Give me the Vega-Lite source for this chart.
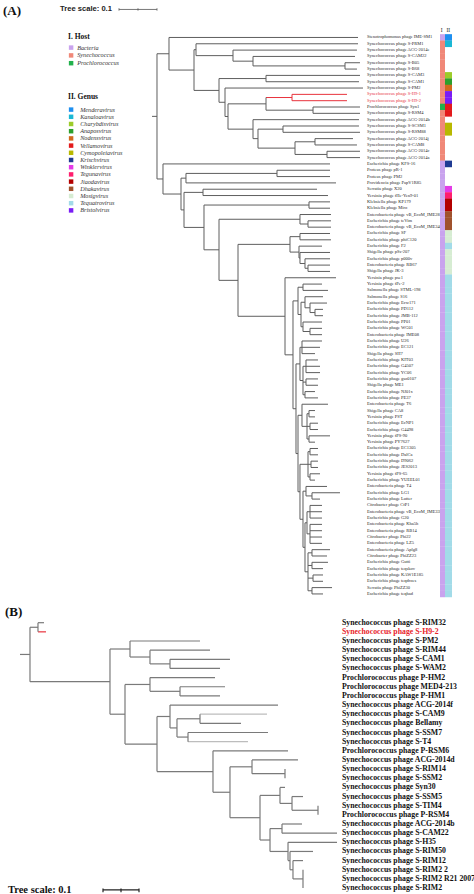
{
  "$schema": "https://vega.github.io/schema/vega-lite/v6.json",
  "padding": 0,
  "spacing": 0,
  "background": "white",
  "config": {"view": {"stroke": null}},
  "resolve": {"scale": {"x": "independent", "y": "independent"}},
  "datasets": {
    "treeA": [
      {"id": "Stenotrophomonas phage IME-SM1", "p": 0.0421, "d": 0.5395, "y": 1, "host": "Bacteria", "genus": "Menderavirus"},
      {"id": "Synechococcus phage S-PRM1", "p": 0.1132, "d": 0.5395, "y": 2, "host": "Synechococcus", "genus": "Kanaloavirus"},
      {"id": "Synechococcus phage ACG-2014e", "p": 0.2105, "d": 0.5368, "y": 3, "host": "Synechococcus"},
      {"id": "Synechococcus phage S-CAM22", "p": 0.2632, "d": 0.5316, "y": 4, "host": "Synechococcus"},
      {"id": "Synechococcus phage S-B05", "p": 0.5053, "d": 0.5447, "y": 5, "host": "Synechococcus"},
      {"id": "Synechococcus phage S-B68", "p": 0.5053, "d": 0.5368, "y": 6, "host": "Synechococcus"},
      {"id": "Synechococcus phage S-CAM3", "p": 0.2974, "d": 0.5447, "y": 7, "host": "Synechococcus", "genus": "Charybdisvirus"},
      {"id": "Synechococcus phage S-CAM1", "p": 0.2974, "d": 0.5421, "y": 8, "host": "Synechococcus", "genus": "Anaposvirus"},
      {"id": "Synechococcus phage S-PM2", "p": 0.1895, "d": 0.5526, "y": 9, "host": "Synechococcus", "genus": "Nodensvirus"},
      {"id": "Synechococcus phage S-H9-1", "p": 0.3658, "d": 0.5105, "y": 10, "host": "Synechococcus", "genus": "Bristolvirus"},
      {"id": "Synechococcus phage S-H9-2", "p": 0.3658, "d": 0.5105, "y": 11, "host": "Synechococcus", "genus": "Bristolvirus"},
      {"id": "Prochlorococcus phage Syn1", "p": 0.4211, "d": 0.5447, "y": 12, "host": "Prochlorococcus", "genus": "Vellamovirus"},
      {"id": "Synechococcus phage S-RSM4", "p": 0.4211, "d": 0.5447, "y": 13, "host": "Synechococcus", "genus": "Vellamovirus"},
      {"id": "Synechococcus phage ACG-2014b", "p": 0.2632, "d": 0.5421, "y": 14, "host": "Synechococcus"},
      {"id": "Synechococcus phage S-SCSM1", "p": 0.3421, "d": 0.5421, "y": 15, "host": "Synechococcus", "genus": "Cymopoleiavirus"},
      {"id": "Synechococcus phage S-RSM88", "p": 0.3421, "d": 0.5447, "y": 16, "host": "Synechococcus", "genus": "Cymopoleiavirus"},
      {"id": "Synechococcus phage ACG-2014j", "p": 0.4263, "d": 0.5263, "y": 17, "host": "Synechococcus"},
      {"id": "Synechococcus phage S-CAM8", "p": 0.4263, "d": 0.5368, "y": 18, "host": "Synechococcus"},
      {"id": "Synechococcus phage ACG-2014c", "p": 0.4579, "d": 0.5447, "y": 19, "host": "Synechococcus"},
      {"id": "Synechococcus phage ACG-2014a", "p": 0.4579, "d": 0.5447, "y": 20, "host": "Synechococcus"},
      {"id": "Escherichia phage KFS-16", "p": 0.0263, "d": 0.4658, "y": 21, "host": "Bacteria", "genus": "Krischvirus"},
      {"id": "Proteus phage pR-1", "p": 0.3263, "d": 0.4658, "y": 22, "host": "Bacteria"},
      {"id": "Proteus phage PM2", "p": 0.3263, "d": 0.4658, "y": 23, "host": "Bacteria"},
      {"id": "Providencia phage PapV1R85", "p": 0.0868, "d": 0.4816, "y": 24, "host": "Bacteria"},
      {"id": "Serratia phage X20", "p": 0.1316, "d": 0.4316, "y": 25, "host": "Bacteria", "genus": "Winklervirus"},
      {"id": "Yersinia phage fHe-Yen9-01", "p": 0.1316, "d": 0.4605, "y": 26, "host": "Bacteria", "genus": "Tegunavirus"},
      {"id": "Klebsiella phage KP179", "p": 0.4105, "d": 0.4658, "y": 27, "host": "Bacteria", "genus": "Jiaodavirus"},
      {"id": "Klebsiella phage Miro", "p": 0.4105, "d": 0.4658, "y": 28, "host": "Bacteria", "genus": "Jiaodavirus"},
      {"id": "Enterobacteria phage vB_EcoM_IME281", "p": 0.3868, "d": 0.4684, "y": 29, "host": "Bacteria", "genus": "Dhakavirus"},
      {"id": "Escherichia phage teVim", "p": 0.4079, "d": 0.4684, "y": 30, "host": "Bacteria", "genus": "Dhakavirus"},
      {"id": "Enterobacteria phage vB_EcoM_IME340", "p": 0.4079, "d": 0.4684, "y": 31, "host": "Bacteria", "genus": "Dhakavirus"},
      {"id": "Escherichia phage SF", "p": 0.3868, "d": 0.4658, "y": 32, "host": "Bacteria", "genus": "Mosigvirus"},
      {"id": "Escherichia phage phiC120", "p": 0.3868, "d": 0.4684, "y": 33, "host": "Bacteria", "genus": "Mosigvirus"},
      {"id": "Escherichia phage F2", "p": 0.3842, "d": 0.4447, "y": 34, "host": "Bacteria", "genus": "Tequatrovirus"},
      {"id": "Shigella phage pSs-207", "p": 0.3868, "d": 0.4658, "y": 35, "host": "Bacteria", "genus": "Mosigvirus"},
      {"id": "Escherichia phage p000v", "p": 0.4, "d": 0.4658, "y": 36, "host": "Bacteria", "genus": "Mosigvirus"},
      {"id": "Enterobacteria phage RB67", "p": 0.4079, "d": 0.4658, "y": 37, "host": "Bacteria", "genus": "Mosigvirus"},
      {"id": "Shigella phage JK-3", "p": 0.4079, "d": 0.4658, "y": 38, "host": "Bacteria", "genus": "Mosigvirus"},
      {"id": "Yersinia phage pse1", "p": 0.3474, "d": 0.4816, "y": 39, "host": "Bacteria", "genus": "Tequatrovirus"},
      {"id": "Yersinia phage fPe-2", "p": 0.3947, "d": 0.4447, "y": 40, "host": "Bacteria", "genus": "Tequatrovirus"},
      {"id": "Salmonella phage STML-198", "p": 0.3947, "d": 0.4605, "y": 41, "host": "Bacteria", "genus": "Tequatrovirus"},
      {"id": "Salmonella phage S16", "p": 0.4, "d": 0.4474, "y": 42, "host": "Bacteria", "genus": "Tequatrovirus"},
      {"id": "Escherichia phage Ecw171", "p": 0.4132, "d": 0.4579, "y": 43, "host": "Bacteria", "genus": "Tequatrovirus"},
      {"id": "Escherichia phage PD112", "p": 0.4263, "d": 0.4474, "y": 44, "host": "Bacteria", "genus": "Tequatrovirus"},
      {"id": "Escherichia phage JMB-112", "p": 0.4263, "d": 0.4474, "y": 45, "host": "Bacteria", "genus": "Tequatrovirus"},
      {"id": "Escherichia phage PP01", "p": 0.3947, "d": 0.4447, "y": 46, "host": "Bacteria", "genus": "Tequatrovirus"},
      {"id": "Escherichia phage WG01", "p": 0.4132, "d": 0.4447, "y": 47, "host": "Bacteria", "genus": "Tequatrovirus"},
      {"id": "Enterobacteria phage IME08", "p": 0.4132, "d": 0.4447, "y": 48, "host": "Bacteria", "genus": "Tequatrovirus"},
      {"id": "Escherichia phage U26", "p": 0.3921, "d": 0.4447, "y": 49, "host": "Bacteria", "genus": "Tequatrovirus"},
      {"id": "Escherichia phage EC121", "p": 0.3921, "d": 0.4395, "y": 50, "host": "Bacteria", "genus": "Tequatrovirus"},
      {"id": "Shigella phage SH7", "p": 0.3921, "d": 0.4263, "y": 51, "host": "Bacteria", "genus": "Tequatrovirus"},
      {"id": "Escherichia phage KIT03", "p": 0.4026, "d": 0.4342, "y": 52, "host": "Bacteria", "genus": "Tequatrovirus"},
      {"id": "Escherichia phage G4507", "p": 0.4026, "d": 0.4395, "y": 53, "host": "Bacteria", "genus": "Tequatrovirus"},
      {"id": "Escherichia phage YC06", "p": 0.4026, "d": 0.4395, "y": 54, "host": "Bacteria", "genus": "Tequatrovirus"},
      {"id": "Escherichia phage gso0107", "p": 0.4026, "d": 0.4342, "y": 55, "host": "Bacteria", "genus": "Tequatrovirus"},
      {"id": "Shigella phage ME1", "p": 0.4026, "d": 0.4342, "y": 56, "host": "Bacteria", "genus": "Tequatrovirus"},
      {"id": "Escherichia phage NJ01x", "p": 0.4, "d": 0.4263, "y": 57, "host": "Bacteria", "genus": "Tequatrovirus"},
      {"id": "Escherichia phage PE37", "p": 0.4, "d": 0.4342, "y": 58, "host": "Bacteria", "genus": "Tequatrovirus"},
      {"id": "Enterobacteria phage T6", "p": 0.3921, "d": 0.4605, "y": 59, "host": "Bacteria", "genus": "Tequatrovirus"},
      {"id": "Shigella phage CA8", "p": 0.4105, "d": 0.4263, "y": 60, "host": "Bacteria", "genus": "Tequatrovirus"},
      {"id": "Yersinia phage PST", "p": 0.4105, "d": 0.4263, "y": 61, "host": "Bacteria", "genus": "Tequatrovirus"},
      {"id": "Escherichia phage EcNP1", "p": 0.4132, "d": 0.4342, "y": 62, "host": "Bacteria", "genus": "Tequatrovirus"},
      {"id": "Escherichia phage G4498", "p": 0.4132, "d": 0.4342, "y": 63, "host": "Bacteria", "genus": "Tequatrovirus"},
      {"id": "Yersinia phage fPS-90", "p": 0.4105, "d": 0.4658, "y": 64, "host": "Bacteria", "genus": "Tequatrovirus"},
      {"id": "Yersinia phage PY7627", "p": 0.4105, "d": 0.4263, "y": 65, "host": "Bacteria", "genus": "Tequatrovirus"},
      {"id": "Escherichia phage EC1305", "p": 0.4132, "d": 0.4342, "y": 66, "host": "Bacteria", "genus": "Tequatrovirus"},
      {"id": "Escherichia phage DalCa", "p": 0.4132, "d": 0.4342, "y": 67, "host": "Bacteria", "genus": "Tequatrovirus"},
      {"id": "Escherichia phage D9062", "p": 0.4158, "d": 0.4342, "y": 68, "host": "Bacteria", "genus": "Tequatrovirus"},
      {"id": "Escherichia phage JES2013", "p": 0.4158, "d": 0.4342, "y": 69, "host": "Bacteria", "genus": "Tequatrovirus"},
      {"id": "Yersinia phage fPS-65", "p": 0.4132, "d": 0.4395, "y": 70, "host": "Bacteria", "genus": "Tequatrovirus"},
      {"id": "Escherichia phage YUEEL01", "p": 0.4132, "d": 0.4263, "y": 71, "host": "Bacteria", "genus": "Tequatrovirus"},
      {"id": "Enterobacteria phage T4", "p": 0.4026, "d": 0.4579, "y": 72, "host": "Bacteria", "genus": "Tequatrovirus"},
      {"id": "Escherichia phage LG1", "p": 0.4184, "d": 0.4921, "y": 73, "host": "Bacteria", "genus": "Tequatrovirus"},
      {"id": "Escherichia phage Lutter", "p": 0.4184, "d": 0.4395, "y": 74, "host": "Bacteria", "genus": "Tequatrovirus"},
      {"id": "Citrobacter phage CfP1", "p": 0.4132, "d": 0.4447, "y": 75, "host": "Bacteria", "genus": "Tequatrovirus"},
      {"id": "Enterobacteria phage vB_EcoM_IME339", "p": 0.4132, "d": 0.4447, "y": 76, "host": "Bacteria", "genus": "Tequatrovirus"},
      {"id": "Escherichia phage G20", "p": 0.4132, "d": 0.4447, "y": 77, "host": "Bacteria", "genus": "Tequatrovirus"},
      {"id": "Enterobacteria phage Kha5h", "p": 0.4132, "d": 0.4447, "y": 78, "host": "Bacteria", "genus": "Tequatrovirus"},
      {"id": "Enterobacteria phage RB14", "p": 0.4132, "d": 0.4447, "y": 79, "host": "Bacteria", "genus": "Tequatrovirus"},
      {"id": "Citrobacter phage Phi22", "p": 0.4132, "d": 0.4447, "y": 80, "host": "Bacteria", "genus": "Tequatrovirus"},
      {"id": "Enterobacteria phage LZ5", "p": 0.4132, "d": 0.4447, "y": 81, "host": "Bacteria", "genus": "Tequatrovirus"},
      {"id": "Enterobacteria phage Aplg8", "p": 0.4184, "d": 0.4658, "y": 82, "host": "Bacteria", "genus": "Tequatrovirus"},
      {"id": "Citrobacter phage PhiZZ23", "p": 0.4184, "d": 0.4579, "y": 83, "host": "Bacteria", "genus": "Tequatrovirus"},
      {"id": "Escherichia phage Gutti", "p": 0.4184, "d": 0.4605, "y": 84, "host": "Bacteria", "genus": "Tequatrovirus"},
      {"id": "Escherichia phage teqskov", "p": 0.4184, "d": 0.4474, "y": 85, "host": "Bacteria", "genus": "Tequatrovirus"},
      {"id": "Escherichia phage KAW1E185", "p": 0.4211, "d": 0.4474, "y": 86, "host": "Bacteria", "genus": "Tequatrovirus"},
      {"id": "Escherichia phage teqdroes", "p": 0.4211, "d": 0.4474, "y": 87, "host": "Bacteria", "genus": "Tequatrovirus"},
      {"id": "Serratia phage PhiZZ30", "p": 0.4184, "d": 0.4711, "y": 88, "host": "Bacteria", "genus": "Tequatrovirus"},
      {"id": "Escherichia phage teqhad", "p": 0.4184, "d": 0.4474, "y": 89, "host": "Bacteria", "genus": "Tequatrovirus"},
      {"id": "H9", "p": 0.2974, "d": 0.3658, "y": 10.5, "lo": 10, "hi": 11},
      {"id": "C12", "p": 0.2974, "d": 0.4211, "y": 12.5, "lo": 12, "hi": 13},
      {"id": "C10", "p": 0.1974, "d": 0.2974, "y": 11.5, "lo": 10.5, "hi": 12.5},
      {"id": "C6", "p": 0.2632, "d": 0.5053, "y": 5.5, "lo": 5, "hi": 6},
      {"id": "C5", "p": 0.2105, "d": 0.2632, "y": 4.75, "lo": 4, "hi": 5.5},
      {"id": "C4", "p": 0.1132, "d": 0.2105, "y": 3.875, "lo": 3, "hi": 4.75},
      {"id": "C2", "p": 0.1079, "d": 0.1132, "y": 2.9375, "lo": 2, "hi": 3.875},
      {"id": "C8", "p": 0.1737, "d": 0.2974, "y": 7.5, "lo": 7, "hi": 8},
      {"id": "C17", "p": 0.3737, "d": 0.4263, "y": 17.5, "lo": 17, "hi": 18},
      {"id": "C18", "p": 0.3737, "d": 0.4579, "y": 19.5, "lo": 19, "hi": 20},
      {"id": "C16", "p": 0.2763, "d": 0.3737, "y": 18.5, "lo": 17.5, "hi": 19.5},
      {"id": "C11", "p": 0.2763, "d": 0.3421, "y": 15.5, "lo": 15, "hi": 16},
      {"id": "C14", "p": 0.2632, "d": 0.2763, "y": 17, "lo": 15.5, "hi": 18.5},
      {"id": "C13", "p": 0.1974, "d": 0.2632, "y": 15.5, "lo": 14, "hi": 17},
      {"id": "C9b", "p": 0.1895, "d": 0.1974, "y": 13.5, "lo": 11.5, "hi": 15.5},
      {"id": "C9", "p": 0.1737, "d": 0.1895, "y": 11.25, "lo": 9, "hi": 13.5},
      {"id": "C3", "p": 0.1079, "d": 0.1737, "y": 9.375, "lo": 7.5, "hi": 11.25},
      {"id": "C1", "p": 0.0421, "d": 0.1079, "y": 6.156, "lo": 2.9375, "hi": 9.375},
      {"id": "C0", "p": 0.0105, "d": 0.0421, "y": 3.578, "lo": 1, "hi": 6.156},
      {"id": "Root", "p": -0.0026, "d": 0.0105, "y": 13.48, "lo": 3.578, "hi": 23.38},
      {"id": "P22", "p": 0.0868, "d": 0.3263, "y": 22.5, "lo": 22, "hi": 23},
      {"id": "E3", "p": 0.0737, "d": 0.0868, "y": 23.25, "lo": 22.5, "hi": 24},
      {"id": "W", "p": 0.0816, "d": 0.1316, "y": 25.5, "lo": 25, "hi": 26},
      {"id": "KP", "p": 0.1342, "d": 0.4105, "y": 27.5, "lo": 27, "hi": 28},
      {"id": "D2", "p": 0.3868, "d": 0.4079, "y": 30.5, "lo": 30, "hi": 31},
      {"id": "D", "p": 0.1737, "d": 0.3868, "y": 29.75, "lo": 29, "hi": 30.5},
      {"id": "M37", "p": 0.4, "d": 0.4079, "y": 37.5, "lo": 37, "hi": 38},
      {"id": "M36", "p": 0.3868, "d": 0.4, "y": 36.75, "lo": 36, "hi": 37.5},
      {"id": "M35", "p": 0.3842, "d": 0.3868, "y": 35.875, "lo": 35, "hi": 36.75},
      {"id": "M34", "p": 0.3605, "d": 0.3842, "y": 34.94, "lo": 34, "hi": 35.875},
      {"id": "M32", "p": 0.3605, "d": 0.3868, "y": 32.5, "lo": 32, "hi": 33},
      {"id": "M", "p": 0.2237, "d": 0.3605, "y": 33.72, "lo": 32.5, "hi": 34.94},
      {"id": "T40", "p": 0.3816, "d": 0.3947, "y": 40.5, "lo": 40, "hi": 41},
      {"id": "T44", "p": 0.4132, "d": 0.4263, "y": 44.5, "lo": 44, "hi": 45},
      {"id": "T43", "p": 0.4, "d": 0.4132, "y": 43.75, "lo": 43, "hi": 44.5},
      {"id": "T42", "p": 0.3895, "d": 0.4, "y": 42.875, "lo": 42, "hi": 43.75},
      {"id": "T47", "p": 0.3947, "d": 0.4132, "y": 47.5, "lo": 47, "hi": 48},
      {"id": "T46", "p": 0.3895, "d": 0.3947, "y": 46.75, "lo": 46, "hi": 47.5},
      {"id": "Te", "p": 0.3816, "d": 0.3895, "y": 44.81, "lo": 42.875, "hi": 46.75},
      {"id": "Tc", "p": 0.3684, "d": 0.3816, "y": 42.66, "lo": 40.5, "hi": 44.81},
      {"id": "T49", "p": 0.3868, "d": 0.3921, "y": 50, "lo": 49, "hi": 51},
      {"id": "T52a", "p": 0.3947, "d": 0.4026, "y": 53, "lo": 52, "hi": 54},
      {"id": "T55", "p": 0.3947, "d": 0.4026, "y": 55.5, "lo": 55, "hi": 56},
      {"id": "T57", "p": 0.3947, "d": 0.4, "y": 57.5, "lo": 57, "hi": 58},
      {"id": "T52", "p": 0.3868, "d": 0.3947, "y": 55.25, "lo": 53, "hi": 57.5},
      {"id": "Tf", "p": 0.3763, "d": 0.3868, "y": 52.625, "lo": 50, "hi": 55.25},
      {"id": "T60a", "p": 0.4053, "d": 0.4105, "y": 60.5, "lo": 60, "hi": 61},
      {"id": "T62", "p": 0.4053, "d": 0.4132, "y": 62.5, "lo": 62, "hi": 63},
      {"id": "T64", "p": 0.4053, "d": 0.4105, "y": 64.5, "lo": 64, "hi": 65},
      {"id": "T60", "p": 0.3921, "d": 0.4053, "y": 62.5, "lo": 60.5, "hi": 64.5},
      {"id": "T59", "p": 0.3816, "d": 0.3921, "y": 60.75, "lo": 59, "hi": 62.5},
      {"id": "T66a", "p": 0.4079, "d": 0.4132, "y": 66.5, "lo": 66, "hi": 67},
      {"id": "T68", "p": 0.4079, "d": 0.4158, "y": 68.5, "lo": 68, "hi": 69},
      {"id": "T70", "p": 0.4079, "d": 0.4132, "y": 70.5, "lo": 70, "hi": 71},
      {"id": "T66", "p": 0.3868, "d": 0.4079, "y": 68.5, "lo": 66.5, "hi": 70.5},
      {"id": "T73", "p": 0.4026, "d": 0.4184, "y": 73.5, "lo": 73, "hi": 74},
      {"id": "T72", "p": 0.3947, "d": 0.4026, "y": 72.75, "lo": 72, "hi": 73.5},
      {"id": "T75a", "p": 0.4053, "d": 0.4132, "y": 76, "lo": 75, "hi": 77},
      {"id": "T78", "p": 0.4053, "d": 0.4132, "y": 79.5, "lo": 78, "hi": 81},
      {"id": "T75", "p": 0.4, "d": 0.4053, "y": 77.75, "lo": 76, "hi": 79.5},
      {"id": "T82a", "p": 0.4079, "d": 0.4184, "y": 82.5, "lo": 82, "hi": 83},
      {"id": "T84", "p": 0.4079, "d": 0.4184, "y": 84.5, "lo": 84, "hi": 85},
      {"id": "T86", "p": 0.4079, "d": 0.4211, "y": 86.5, "lo": 86, "hi": 87},
      {"id": "T88", "p": 0.4079, "d": 0.4184, "y": 88.5, "lo": 88, "hi": 89},
      {"id": "T82", "p": 0.4, "d": 0.4079, "y": 85.5, "lo": 82.5, "hi": 88.5},
      {"id": "Tj", "p": 0.3947, "d": 0.4, "y": 81.625, "lo": 77.75, "hi": 85.5},
      {"id": "Ti", "p": 0.3868, "d": 0.3947, "y": 77.19, "lo": 72.75, "hi": 81.625},
      {"id": "Th", "p": 0.3816, "d": 0.3868, "y": 72.84, "lo": 68.5, "hi": 77.19},
      {"id": "Tg", "p": 0.3763, "d": 0.3816, "y": 66.8, "lo": 60.75, "hi": 72.84},
      {"id": "Td", "p": 0.3684, "d": 0.3763, "y": 59.71, "lo": 52.625, "hi": 66.8},
      {"id": "Tb", "p": 0.3474, "d": 0.3684, "y": 51.19, "lo": 42.66, "hi": 59.71},
      {"id": "T", "p": 0.2237, "d": 0.3474, "y": 45.09, "lo": 39, "hi": 51.19},
      {"id": "X4", "p": 0.1737, "d": 0.2237, "y": 39.41, "lo": 33.72, "hi": 45.09},
      {"id": "X3", "p": 0.1342, "d": 0.1737, "y": 34.58, "lo": 29.75, "hi": 39.41},
      {"id": "X2", "p": 0.0816, "d": 0.1342, "y": 31.04, "lo": 27.5, "hi": 34.58},
      {"id": "X1", "p": 0.0737, "d": 0.0816, "y": 28.27, "lo": 25.5, "hi": 31.04},
      {"id": "E2", "p": 0.0263, "d": 0.0737, "y": 25.76, "lo": 23.25, "hi": 28.27},
      {"id": "E", "p": 0.0105, "d": 0.0263, "y": 23.38, "lo": 21, "hi": 25.76}
    ],
    "treeB": [
      {"id": "Synechococcus phage S-RIM32", "p": 0.0361, "d": 0.0528, "y": 1},
      {"id": "Synechococcus phage S-H9-2", "p": 0.0361, "d": 0.0583, "y": 2},
      {"id": "Synechococcus phage S-PM2", "p": 0.2917, "d": 0.4861, "y": 3},
      {"id": "Synechococcus phage S-RIM44", "p": 0.3472, "d": 0.5139, "y": 4},
      {"id": "Synechococcus phage S-CAM1", "p": 0.4028, "d": 0.5694, "y": 5},
      {"id": "Synechococcus phage S-WAM2", "p": 0.4028, "d": 0.5417, "y": 6},
      {"id": "Prochlorococcus phage P-HM2", "p": 0.3472, "d": 0.5278, "y": 7},
      {"id": "Prochlorococcus phage MED4-213", "p": 0.4306, "d": 0.5556, "y": 8},
      {"id": "Prochlorococcus phage P-HM1", "p": 0.4306, "d": 0.5417, "y": 9},
      {"id": "Synechococcus phage ACG-2014f", "p": 0.4028, "d": 0.7028, "y": 10},
      {"id": "Synechococcus phage S-CAM9", "p": 0.4861, "d": 0.6722, "y": 11},
      {"id": "Synechococcus phage Bellamy", "p": 0.4861, "d": 0.6, "y": 12},
      {"id": "Synechococcus phage S-SSM7", "p": 0.4528, "d": 0.675, "y": 13},
      {"id": "Synechococcus phage S-T4", "p": 0.4528, "d": 0.6194, "y": 14},
      {"id": "Prochlorococcus phage P-RSM6", "p": 0.5222, "d": 0.7306, "y": 15},
      {"id": "Synechococcus phage ACG-2014d", "p": 0.6306, "d": 0.7583, "y": 16},
      {"id": "Synechococcus phage S-RIM14", "p": 0.7222, "d": 0.7222, "y": 17},
      {"id": "Synechococcus phage S-SSM2", "p": 0.7222, "d": 0.7222, "y": 18},
      {"id": "Synechococcus phage Syn30", "p": 0.7083, "d": 0.7222, "y": 19},
      {"id": "Synechococcus phage S-SSM5", "p": 0.7417, "d": 0.7722, "y": 20},
      {"id": "Synechococcus phage S-TIM4", "p": 0.8139, "d": 0.8139, "y": 21},
      {"id": "Prochlorococcus phage P-RSM4", "p": 0.8139, "d": 0.8139, "y": 22},
      {"id": "Synechococcus phage ACG-2014b", "p": 0.7139, "d": 0.7694, "y": 23},
      {"id": "Synechococcus phage S-CAM22", "p": 0.7139, "d": 0.8667, "y": 24},
      {"id": "Synechococcus phage S-H35", "p": 0.7306, "d": 0.8667, "y": 25},
      {"id": "Synechococcus phage S-RIM50", "p": 0.7361, "d": 0.8, "y": 26},
      {"id": "Synechococcus phage S-RIM12", "p": 0.7444, "d": 0.7722, "y": 27},
      {"id": "Synechococcus phage S-RIM2 2", "p": 0.7722, "d": 0.7722, "y": 28},
      {"id": "Synechococcus phage S-RIM2 R21 2007", "p": 0.7722, "d": 0.7722, "y": 29},
      {"id": "Synechococcus phage S-RIM2", "p": 0.7722, "d": 0.7722, "y": 30},
      {"id": "P12", "p": 0.0139, "d": 0.0361, "y": 1.5, "lo": 1, "hi": 2},
      {"id": "Q5", "p": 0.3472, "d": 0.4028, "y": 5.5, "lo": 5, "hi": 6},
      {"id": "Q4", "p": 0.2917, "d": 0.3472, "y": 4.75, "lo": 4, "hi": 5.5},
      {"id": "Q3", "p": 0.2361, "d": 0.2917, "y": 3.875, "lo": 3, "hi": 4.75},
      {"id": "PH89", "p": 0.3472, "d": 0.4306, "y": 8.5, "lo": 8, "hi": 9},
      {"id": "PH", "p": 0.2778, "d": 0.3472, "y": 7.75, "lo": 7, "hi": 8.5},
      {"id": "N200", "p": 0.4222, "d": 0.4861, "y": 11.5, "lo": 11, "hi": 12},
      {"id": "N188", "p": 0.4222, "d": 0.4528, "y": 13.5, "lo": 13, "hi": 14},
      {"id": "N177", "p": 0.4028, "d": 0.4222, "y": 12.5, "lo": 11.5, "hi": 13.5},
      {"id": "N170", "p": 0.3667, "d": 0.4028, "y": 11.25, "lo": 10, "hi": 12.5},
      {"id": "N285", "p": 0.6306, "d": 0.7222, "y": 17.5, "lo": 17, "hi": 18},
      {"id": "N252", "p": 0.5694, "d": 0.6306, "y": 16.75, "lo": 16, "hi": 17.5},
      {"id": "N318", "p": 0.7417, "d": 0.8139, "y": 21.5, "lo": 21, "hi": 22},
      {"id": "N292", "p": 0.7083, "d": 0.7417, "y": 20.75, "lo": 20, "hi": 21.5},
      {"id": "N280", "p": 0.6528, "d": 0.7083, "y": 19.875, "lo": 19, "hi": 20.75},
      {"id": "N303", "p": 0.7444, "d": 0.7722, "y": 29, "lo": 28, "hi": 30},
      {"id": "N293", "p": 0.7361, "d": 0.7444, "y": 28, "lo": 27, "hi": 29},
      {"id": "N290", "p": 0.7306, "d": 0.7361, "y": 27, "lo": 26, "hi": 28},
      {"id": "N288", "p": 0.6806, "d": 0.7306, "y": 26, "lo": 25, "hi": 27},
      {"id": "N282a", "p": 0.6806, "d": 0.7139, "y": 23.5, "lo": 23, "hi": 24},
      {"id": "N270", "p": 0.6528, "d": 0.6806, "y": 24.75, "lo": 23.5, "hi": 26},
      {"id": "N260", "p": 0.5694, "d": 0.6528, "y": 22.31, "lo": 19.875, "hi": 24.75},
      {"id": "N230", "p": 0.5222, "d": 0.5694, "y": 19.53, "lo": 16.75, "hi": 22.31},
      {"id": "N213", "p": 0.3667, "d": 0.5222, "y": 17.27, "lo": 15, "hi": 19.53},
      {"id": "N157", "p": 0.2778, "d": 0.3667, "y": 14.26, "lo": 11.25, "hi": 17.27},
      {"id": "N125", "p": 0.2361, "d": 0.2778, "y": 11.0, "lo": 7.75, "hi": 14.26},
      {"id": "N110", "p": 0.0139, "d": 0.2361, "y": 7.44, "lo": 3.875, "hi": 11.0},
      {"id": "R", "p": -0.0139, "d": 0.0139, "y": 4.47, "lo": 1.5, "hi": 7.44}
    ]
  },
  "vconcat": [
    {
      "width": 474,
      "height": 604,
      "resolve": {"scale": {"color": "independent"}},
      "layer": [
        {
          "data": {"name": "treeA"},
          "mark": {"type": "rule", "strokeWidth": 1},
          "encoding": {
            "x": {"field": "p", "type": "quantitative", "scale": {"domain": [-0.40263, 0.84474], "nice": false, "zero": false}, "axis": null},
            "x2": {"field": "d"},
            "y": {"field": "y", "type": "quantitative", "scale": {"domain": [-4.132, 89.8], "reverse": true, "nice": false, "zero": false}, "axis": null},
            "color": {"condition": {"test": "datum.id == 'H9' || indexof(datum.id, 'S-H9') >= 0", "value": "#e8323c"}, "value": "#5e5e5e"}
          }
        },
        {
          "data": {"name": "treeA"},
          "transform": [{"filter": "isValid(datum.lo)"}],
          "mark": {"type": "rule", "strokeWidth": 1},
          "encoding": {
            "x": {"field": "d", "type": "quantitative"},
            "y": {"field": "lo", "type": "quantitative"},
            "y2": {"field": "hi"},
            "color": {"condition": {"test": "datum.id == 'H9'", "value": "#e8323c"}, "value": "#5e5e5e"}
          }
        },
        {
          "data": {"name": "treeA"},
          "transform": [{"filter": "isValid(datum.host)"}],
          "mark": {"type": "text", "align": "left", "baseline": "middle", "font": "Liberation Serif", "fontSize": 4.5},
          "encoding": {
            "x": {"datum": 0.5632, "type": "quantitative"},
            "y": {"field": "y", "type": "quantitative"},
            "text": {"field": "id"},
            "color": {"condition": {"test": "indexof(datum.id, 'S-H9') >= 0", "value": "#e8323c"}, "value": "#2a2a2a"}
          }
        },
        {
          "data": {"name": "treeA"},
          "transform": [{"filter": "isValid(datum.host)"}],
          "mark": {"type": "bar", "height": 6.6},
          "encoding": {
            "x": {"datum": 0.7553, "type": "quantitative"},
            "x2": {"datum": 0.7684},
            "y": {"field": "y", "type": "quantitative"},
            "color": {
              "field": "host", "type": "nominal",
              "scale": {"domain": ["Bacteria", "Synechococcus", "Prochlorococcus"], "range": ["#c9a3ee", "#f08878", "#22b14c"]},
              "legend": {"title": "I. Host", "orient": "none", "legendX": 68, "legendY": 33, "padding": 0, "symbolType": "square", "symbolSize": 20, "symbolStrokeWidth": 0, "symbolOffset": 0, "labelFont": "Liberation Serif", "labelFontSize": 6.2, "labelFontStyle": "italic", "labelColor": "#333333", "labelOffset": 3, "titleFont": "Liberation Serif", "titleFontSize": 7.5, "titleFontWeight": "bold", "titleColor": "#111111", "titlePadding": 4, "rowPadding": 0.8}
            }
          }
        },
        {
          "data": {"name": "treeA"},
          "transform": [{"filter": "isValid(datum.genus)"}],
          "mark": {"type": "bar", "height": 6.6},
          "encoding": {
            "x": {"datum": 0.7684, "type": "quantitative"},
            "x2": {"datum": 0.7868},
            "y": {"field": "y", "type": "quantitative"},
            "color": {
              "field": "genus", "type": "nominal",
              "scale": {
                "domain": ["Menderavirus", "Kanaloavirus", "Charybdisvirus", "Anaposvirus", "Nodensvirus", "Vellamovirus", "Cymopoleiavirus", "Krischvirus", "Winklervirus", "Tegunavirus", "Jiaodavirus", "Dhakavirus", "Mosigvirus", "Tequatrovirus", "Bristolvirus"],
                "range": ["#1e8ff0", "#1ab8d4", "#9ccc2a", "#2ca02c", "#d2691e", "#e31a1c", "#b8b800", "#1f3a93", "#e33be6", "#ff1e6e", "#b30000", "#a0522d", "#d6ecd2", "#a2dbe8", "#7a1cf5"]
              },
              "legend": {"title": "II. Genus", "orient": "none", "legendX": 68, "legendY": 93, "padding": 0, "symbolType": "square", "symbolSize": 20, "symbolStrokeWidth": 0, "symbolOffset": 0, "labelFont": "Liberation Serif", "labelFontSize": 6.2, "labelFontStyle": "italic", "labelColor": "#333333", "labelOffset": 6, "titleFont": "Liberation Serif", "titleFontSize": 7.5, "titleFontWeight": "bold", "titleColor": "#111111", "titlePadding": 6, "rowPadding": 0.2}
            }
          }
        },
        {
          "data": {"values": [{"t": "I", "c": 0.7597}, {"t": "II", "c": 0.7771}]},
          "mark": {"type": "text", "align": "center", "baseline": "middle", "font": "Liberation Serif", "fontSize": 5.5, "color": "#222222"},
          "encoding": {
            "x": {"field": "c", "type": "quantitative"},
            "y": {"datum": -0.25, "type": "quantitative"},
            "text": {"field": "t"}
          }
        },
        {
          "data": {"values": [{"t": "(A)"}]},
          "mark": {"type": "text", "align": "left", "baseline": "middle", "font": "Liberation Serif", "fontSize": 13, "fontWeight": "bold", "color": "#111111"},
          "encoding": {
            "x": {"datum": -0.3947, "type": "quantitative"},
            "y": {"datum": -3.2, "type": "quantitative"},
            "text": {"field": "t"}
          }
        },
        {
          "data": {"values": [{"t": "Tree scale: 0.1"}]},
          "mark": {"type": "text", "align": "left", "baseline": "middle", "font": "Liberation Sans", "fontSize": 7.6, "fontWeight": "bold", "color": "#222222"},
          "encoding": {
            "x": {"datum": -0.2447, "type": "quantitative"},
            "y": {"datum": -3.43, "type": "quantitative"},
            "text": {"field": "t"}
          }
        },
        {
          "data": {"values": [{"t": "bar"}]},
          "mark": {"type": "rule", "strokeWidth": 0.8, "color": "#555555"},
          "encoding": {
            "x": {"datum": -0.0895, "type": "quantitative"},
            "x2": {"datum": 0.0105},
            "y": {"datum": -3.43, "type": "quantitative"}
          }
        },
        {
          "data": {"values": [{"v": -0.0895}, {"v": -0.0395}, {"v": 0.0105}]},
          "mark": {"type": "rule", "strokeWidth": 0.8, "color": "#555555"},
          "encoding": {
            "x": {"field": "v", "type": "quantitative"},
            "y": {"datum": -3.62, "type": "quantitative"},
            "y2": {"datum": -3.24}
          }
        }
      ]
    },
    {
      "width": 474,
      "height": 290,
      "layer": [
        {
          "data": {"name": "treeB"},
          "mark": {"type": "rule", "strokeWidth": 1.2},
          "encoding": {
            "x": {"field": "p", "type": "quantitative", "scale": {"domain": [-0.0694, 1.2472], "nice": false, "zero": false}, "axis": null},
            "x2": {"field": "d"},
            "y": {"field": "y", "type": "quantitative", "scale": {"domain": [-1.0437, 30.65], "reverse": true, "nice": false, "zero": false}, "axis": null},
            "color": {
              "condition": [
                {"test": "indexof(datum.id, 'S-H9') >= 0", "value": "#e8323c"},
                {"test": "indexof(datum.id, 'S-CAM9') >= 0 || indexof(datum.id, 'S-T4') >= 0", "value": "#bdbdbd"}
              ],
              "value": "#7a7a7a"
            }
          }
        },
        {
          "data": {"name": "treeB"},
          "transform": [{"filter": "isValid(datum.lo)"}],
          "mark": {"type": "rule", "strokeWidth": 1.2, "color": "#7a7a7a"},
          "encoding": {
            "x": {"field": "d", "type": "quantitative"},
            "y": {"field": "lo", "type": "quantitative"},
            "y2": {"field": "hi"}
          }
        },
        {
          "data": {"name": "treeB"},
          "transform": [{"filter": "test(/phage/, datum.id)"}],
          "mark": {"type": "text", "align": "left", "baseline": "middle", "font": "Liberation Serif", "fontSize": 7.8, "fontWeight": "bold"},
          "encoding": {
            "x": {"datum": 0.8806, "type": "quantitative"},
            "y": {"field": "y", "type": "quantitative"},
            "text": {"field": "id"},
            "color": {"condition": {"test": "indexof(datum.id, 'S-H9') >= 0", "value": "#e8222a"}, "value": "#111111"}
          }
        },
        {
          "data": {"values": [{"t": "(B)"}]},
          "mark": {"type": "text", "align": "left", "baseline": "middle", "font": "Liberation Serif", "fontSize": 13, "fontWeight": "bold", "color": "#111111"},
          "encoding": {
            "x": {"datum": -0.0556, "type": "quantitative"},
            "y": {"datum": -0.17, "type": "quantitative"},
            "text": {"field": "t"}
          }
        },
        {
          "data": {"values": [{"t": "Tree scale: 0.1"}]},
          "mark": {"type": "text", "align": "left", "baseline": "middle", "font": "Liberation Serif", "fontSize": 10.5, "fontWeight": "bold", "color": "#111111"},
          "encoding": {
            "x": {"datum": -0.0472, "type": "quantitative"},
            "y": {"datum": 30.21, "type": "quantitative"},
            "text": {"field": "t"}
          }
        },
        {
          "data": {"values": [{"t": "bar"}]},
          "mark": {"type": "rule", "strokeWidth": 1.2, "color": "#222222"},
          "encoding": {
            "x": {"datum": 0.2167, "type": "quantitative"},
            "x2": {"datum": 0.3167},
            "y": {"datum": 30.21, "type": "quantitative"}
          }
        },
        {
          "data": {"values": [{"v": 0.2167}, {"v": 0.2667}, {"v": 0.3167}]},
          "mark": {"type": "rule", "strokeWidth": 1.2, "color": "#222222"},
          "encoding": {
            "x": {"field": "v", "type": "quantitative"},
            "y": {"datum": 30.05, "type": "quantitative"},
            "y2": {"datum": 30.45}
          }
        }
      ]
    }
  ]
}
